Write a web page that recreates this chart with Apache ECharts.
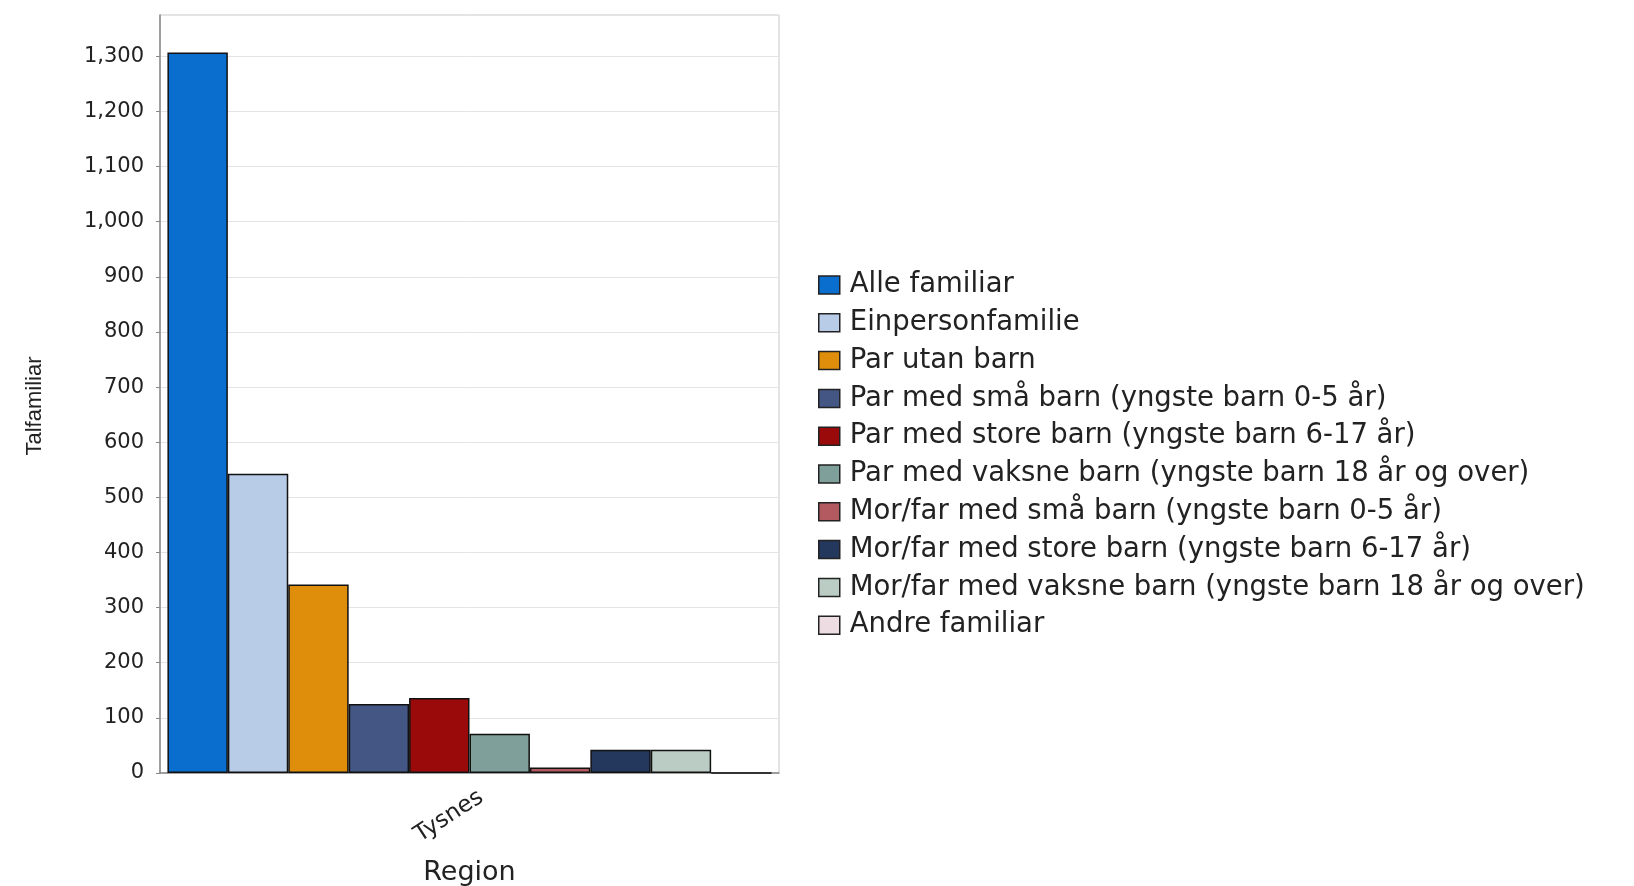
<!DOCTYPE html>
<html>
<head>
<meta charset="utf-8">
<script src="https://cdn.jsdelivr.net/npm/echarts@6/dist/echarts.min.js"></script>
<style>
html,body{margin:0;padding:0;background:#fff;}
#chart{width:1634px;height:886px;}
</style>
</head>
<body>
<div id="chart"></div>
<script>
const categories = ['Tysnes'];
const seriesNames = [
  'Alle familiar',
  'Einpersonfamilie',
  'Par utan barn',
  'Par med små barn (yngste barn 0-5 år)',
  'Par med store barn (yngste barn 6-17 år)',
  'Par med vaksne barn (yngste barn 18 år og over)',
  'Mor/far med små barn (yngste barn 0-5 år)',
  'Mor/far med store barn (yngste barn 6-17 år)',
  'Mor/far med vaksne barn (yngste barn 18 år og over)',
  'Andre familiar'
];
const seriesValues = [1307, 543, 342, 125, 136, 71, 10, 42, 42, 0];
const colors = ['#0A6ECF', '#B8CCE8', '#DE8E0A', '#435684', '#9A0A0A', '#7E9F9A', '#B35A60', '#24375C', '#BACCC4', '#EDDCE2'];
const yAxisName = 'Talfamiliar';
const xAxisName = 'Region';

const chart = echarts.init(document.getElementById('chart'));
const series = seriesNames.map((name, i) => ({
  name: name,
  type: 'bar',
  data: [seriesValues[i]],
  barGap: '0%',
  barCategoryGap: '2.4%',
  itemStyle: { color: colors[i], borderColor: '#111', borderWidth: 1.5 },
  emphasis: { disabled: true }
}));

chart.setOption({
  animation: false,
  color: colors,
  grid: {
    left: 160, right: 855, top: 15, bottom: 113,
    outerBoundsMode: 'none',
    containLabel: false,
    show: true, borderColor: '#c8c8c8', borderWidth: 1, backgroundColor: '#fff'
  },
  legend: {
    orient: 'vertical',
    left: 813,
    top: 266,
    itemWidth: 21,
    itemHeight: 18,
    itemGap: 9.8,
    icon: 'rect',
    itemStyle: { borderColor: '#222', borderWidth: 1.5 },
    textStyle: { fontFamily: 'DejaVu Sans', fontSize: 27.5, color: '#222', lineHeight: 26, padding: [0, 0, 0, 5] },
    data: seriesNames
  },
  xAxis: {
    type: 'category',
    data: categories,
    name: xAxisName,
    nameLocation: 'middle',
    nameGap: 86,
    nameTextStyle: { fontFamily: 'DejaVu Sans', fontSize: 27, color: '#222' },
    axisLine: { lineStyle: { color: '#888', width: 1.5 } },
    axisTick: { show: false },
    axisLabel: { rotate: 33, margin: 30, padding: [0, -14, 0, 0], fontFamily: 'DejaVu Sans', fontSize: 23, color: '#222', interval: 0 }
  },
  yAxis: {
    type: 'value',
    min: 0,
    max: 1375,
    interval: 100,
    name: yAxisName,
    nameLocation: 'middle',
    nameGap: 114,
    nameRotate: 90,
    nameTextStyle: { fontFamily: 'Liberation Sans', fontSize: 22, color: '#222', padding: [0, 24, 0, 0] },
    axisLine: { show: true, lineStyle: { color: '#888', width: 1.5 } },
    axisTick: { show: true, length: 4, lineStyle: { color: '#888' } },
    splitLine: { lineStyle: { color: '#e4e4e4', width: 1 } },
    axisLabel: {
      margin: 16,
      fontFamily: 'DejaVu Sans',
      fontSize: 21,
      color: '#222',
      showMaxLabel: false,
      formatter: v => (v % 100 === 0 ? v.toLocaleString('en-US') : '')
    }
  },
  series: series
});
</script>
</body>
</html>
